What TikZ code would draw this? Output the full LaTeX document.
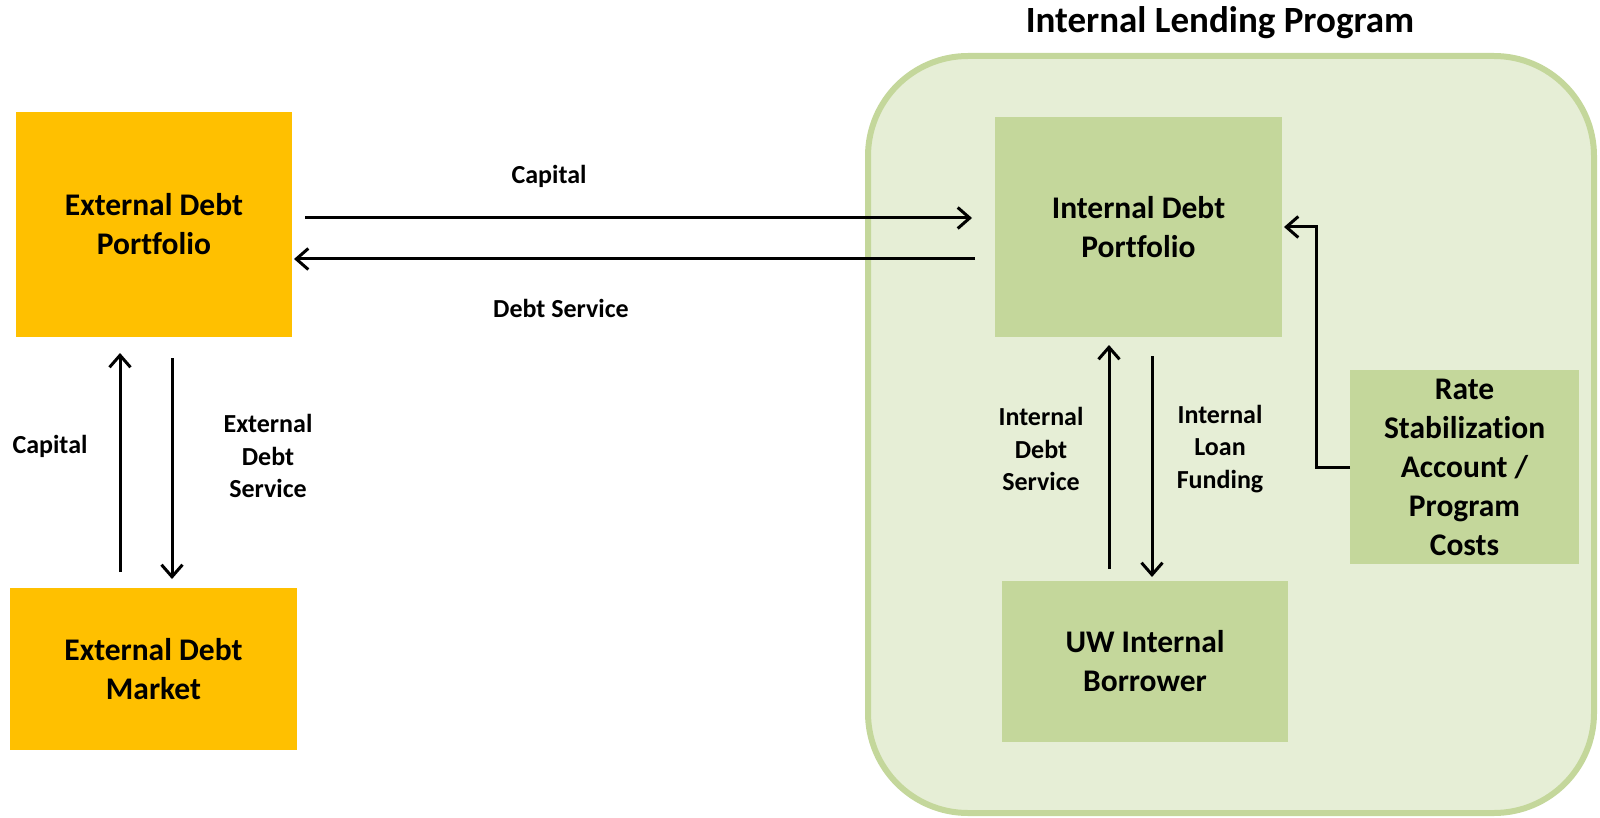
\documentclass[tikz,border=0pt]{standalone}
\usepackage{fontspec}
\setmainfont{Carlito}[Ligatures=NoCommon]
\usetikzlibrary{arrows.meta,calc}
\definecolor{gold}{HTML}{FFC000}
\definecolor{leaf}{HTML}{C4D79B}
\definecolor{pale}{HTML}{E6EED6}

\begin{document}
\begin{tikzpicture}[x=1pt,y=-1pt,
  boxtext/.style={font=\bfseries\fontsize{31.5}{39}\selectfont, align=center, inner sep=0pt, outer sep=0pt},
  goldbox/.style={boxtext, fill=gold},
  leafbox/.style={boxtext, fill=leaf},
  flowlabel/.style={font=\bfseries\fontsize{26}{32.5}\selectfont, align=center, inner sep=0pt},
  flow/.style={line width=3pt, -{Straight Barb[length=12pt,width=21pt]}}
]
\useasboundingbox (0,0) rectangle (1600,818);

% program frame and its title
\node[draw=leaf, fill=pale, line width=6pt, rounded corners=100pt,
      minimum width=726pt, minimum height=757pt, inner sep=0pt, outer sep=0pt]
      (program) at (1231,434.5) {};
\node[font=\bfseries\fontsize{37}{44}\selectfont, inner sep=0pt] (title) at (1220,23) {Internal Lending Program};

% external side
\node[goldbox, minimum width=276pt, minimum height=225pt] (edp) at (154,224.5) {External Debt\\Portfolio};
\node[goldbox, minimum width=287pt, minimum height=162pt] (edm) at (153.5,669) {External Debt\\Market};

% internal side
\node[leafbox, minimum width=287pt, minimum height=220pt] (idp) at (1138.5,227) {Internal Debt\\Portfolio};
\node[leafbox, minimum width=286pt, minimum height=161pt] (uw) at (1145,661.5) {UW Internal\\Borrower};
\node[leafbox, minimum width=229pt, minimum height=194pt] (rsa) at (1464.5,467) {Rate\\Stabilization\\Account /\\Program\\Costs};

% helper columns for the vertical flows
\coordinate (xa) at (120,0);
\coordinate (xb) at (172,0);
\coordinate (xc) at (1109,0);
\coordinate (xd) at (1152,0);
\coordinate (elb) at (1316,227);

% horizontal flows
\draw[flow, shorten <=13pt, shorten >=23pt] ([yshift=6.5pt]edp.east) -- ([yshift=6.5pt]edp.east -| idp.west);
\draw[flow, shorten <=20pt, shorten >=2pt] ([yshift=-34.5pt]edp.east -| idp.west) -- ([yshift=-34.5pt]edp.east);

% external vertical flows
\draw[flow, shorten <=16pt, shorten >=16pt] (edm.north -| xa) -- (edp.south -| xa);
\draw[flow, shorten <=21pt, shorten >=9pt] (edp.south -| xb) -- (edm.north -| xb);

% internal vertical flows
\draw[flow, shorten <=12pt, shorten >=8pt] (uw.north -| xc) -- (idp.south -| xc);
\draw[flow, shorten <=19pt, shorten >=4pt] (idp.south -| xd) -- (uw.north -| xd);

% rate stabilization feed
\draw[flow, shorten >=2pt] (rsa.west) -| (elb) -- (idp.east);

% labels
\node[flowlabel] (lcap) at (549,176) {Capital};
\node[flowlabel] (lds) at (561,308) {Debt Service};
\node[flowlabel] (lcap2) at (50,446) {Capital};
\node[flowlabel] (leds) at (268,456) {External\\Debt\\Service};
\node[flowlabel] (lids) at (1041,449) {Internal\\Debt\\Service};
\node[flowlabel] (lilf) at (1220,449) {Internal\\Loan\\Funding};
\end{tikzpicture}
\end{document}
